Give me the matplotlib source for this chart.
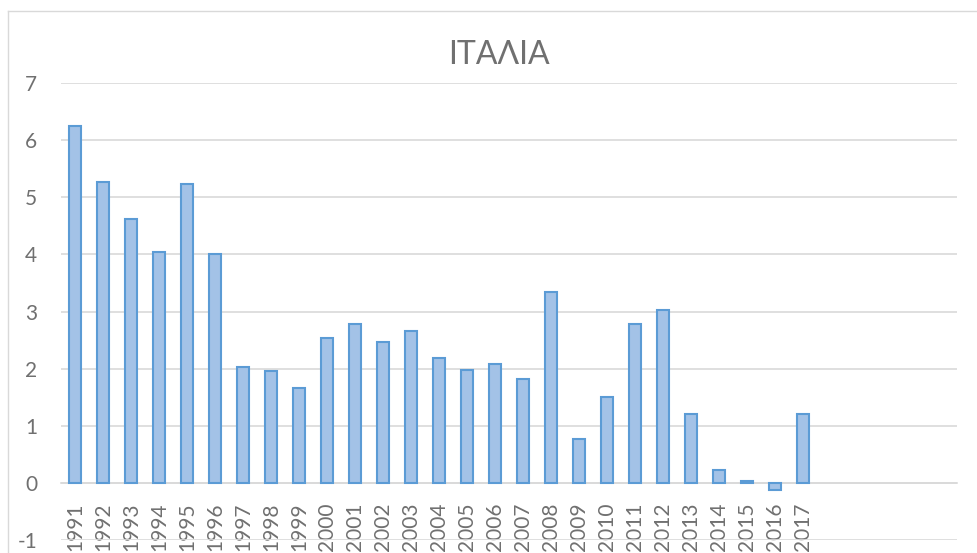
import matplotlib
matplotlib.use("Agg")
import matplotlib.pyplot as plt
from matplotlib.lines import Line2D

# Data
years = [str(y) for y in range(1991, 2018)]
values = [6.24, 5.26, 4.62, 4.05, 5.23, 4.00, 2.03, 1.95, 1.66, 2.53,
          2.78, 2.46, 2.66, 2.19, 1.98, 2.08, 1.82, 3.34, 0.77, 1.51,
          2.78, 3.03, 1.21, 0.23, 0.03, -0.12, 1.21]
n_slots = 32  # category axis has empty slots after 2017
title = "ΙΤΑΛΙΑ"

plt.rcParams["font.family"] = ["Lato", "DejaVu Sans"]
plt.rcParams["axes.unicode_minus"] = False
text_col = "#707070"
grid_col = "#d9d9d9"

W, H = 978, 553
fig = plt.figure(figsize=(W / 100, H / 100), dpi=100)
ax = fig.add_axes([61 / W, 1 - 540 / H, (957 - 61) / W, (540 - 83) / H])

# axis line sits at y=0 (set before tick labels, it resets them)
for s in ["top", "right", "left"]:
    ax.spines[s].set_visible(False)
ax.spines["bottom"].set_position(("data", 0))
ax.spines["bottom"].set_color(grid_col)
ax.spines["bottom"].set_linewidth(1.2)

x = list(range(len(years)))
ax.bar(x, values, width=0.43, color="#a3c2e7", edgecolor="#5b9bd5", linewidth=1.5, zorder=3)

ax.set_xlim(-0.5, n_slots - 0.5)
ax.set_ylim(-1, 7)
ax.set_yticks(range(-1, 8))
ax.set_xticks(x)
ax.set_xticklabels(years, rotation=90, va="top", ha="center")
ax.grid(axis="y", color=grid_col, linewidth=1.2, zorder=0)

ax.tick_params(axis="y", length=0, pad=17, labelsize=15, labelcolor=text_col)
ax.tick_params(axis="x", length=0, pad=14, labelsize=15, labelcolor=text_col)

fig.text(499 / W, 1 - 55 / H, title, ha="center", va="center", fontsize=23, color=text_col)

# chart frame (cropped at right and bottom)
fig.add_artist(Line2D([8 / W, 1], [1 - 11 / H] * 2, color=grid_col, lw=1))
fig.add_artist(Line2D([8 / W] * 2, [0, 1 - 11 / H], color=grid_col, lw=1))

fig.savefig("out.png", dpi=100)
